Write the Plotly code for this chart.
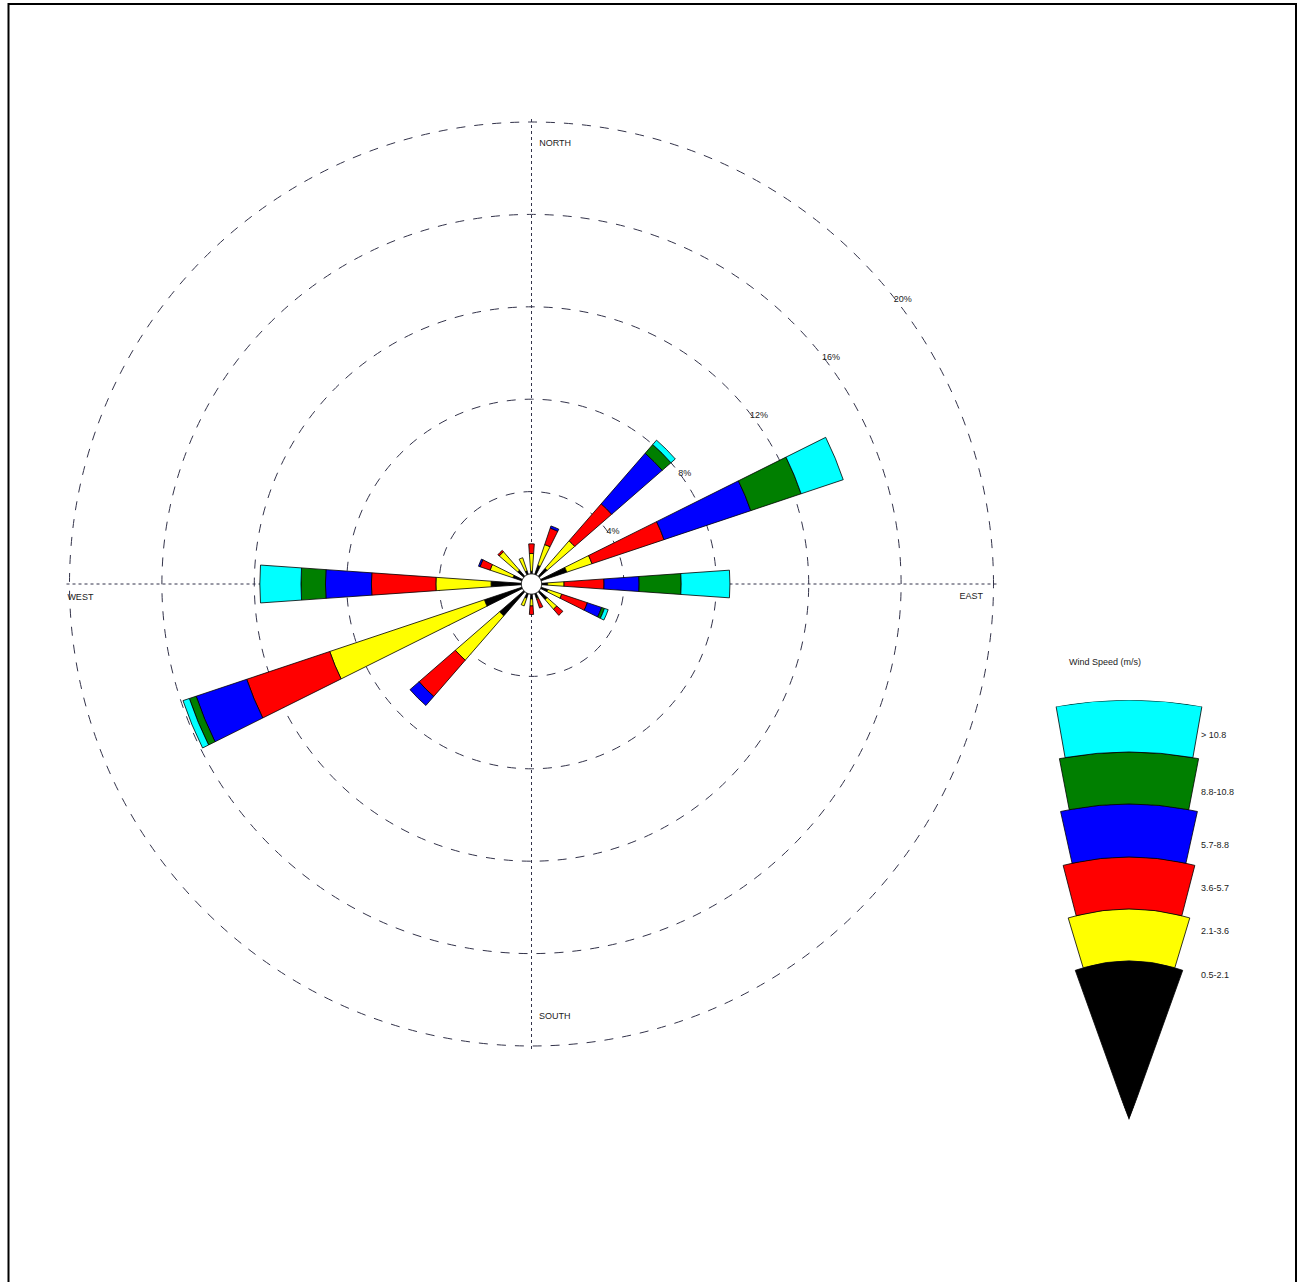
import numpy as np
import plotly.graph_objects as go

# ---------------- data ----------------
directions = [0, 22.5, 45, 67.5, 90, 112.5, 135, 157.5,
              180, 202.5, 225, 247.5, 270, 292.5, 315, 337.5]
direction_names = ["N", "NNE", "NE", "ENE", "E", "ESE", "SE", "SSE",
                   "S", "SSW", "SW", "WSW", "W", "WNW", "NW", "NNW"]
speed_classes = ["0.5-2.1", "2.1-3.6", "3.6-5.7", "5.7-8.8", "8.8-10.8", "> 10.8"]

# frequency (%) of each speed class per direction
freq_05_21 = [0.11, 0.41, 0.46, 1.17, 0.26, 0.31, 0.46, 0.21, 0.21, 0.21, 1.39, 1.71, 1.31, 0.41, 0.36, 0.16]
freq_21_36 = [0.77, 0.95, 1.58, 1.15, 0.71, 0.63, 0.55, 0.05, 0.30, 0.35, 2.54, 7.06, 2.39, 1.04, 1.05, 0.60]
freq_36_57 = [0.42, 0.75, 2.12, 3.29, 1.73, 1.17, 0.35, 0.40, 0.37, 0.00, 2.08, 3.79, 2.79, 0.46, 0.08, 0.00]
freq_57_88 = [0.00, 0.10, 2.90, 3.96, 1.52, 0.65, 0.00, 0.00, 0.00, 0.00, 0.52, 2.31, 1.99, 0.07, 0.00, 0.00]
freq_88_108 = [0.00, 0.00, 0.50, 2.30, 1.82, 0.13, 0.00, 0.00, 0.00, 0.00, 0.00, 0.31, 1.06, 0.00, 0.00, 0.00]
freq_gt_108 = [0.00, 0.00, 0.25, 1.92, 2.11, 0.17, 0.00, 0.00, 0.00, 0.00, 0.00, 0.29, 1.78, 0.00, 0.00, 0.00]
calm_radius = 0.44  # radius of the calm circle (%)

ring_values = [4, 8, 12, 16, 20]
ring_labels = ["4%", "8%", "12%", "16%", "20%"]
compass_labels = ["NORTH", "EAST", "SOUTH", "WEST"]
legend_title = "Wind Speed (m/s)"

# ---------------- styles / layout constants ----------------
W, H = 1298, 1282
colors = ["#000000", "#FFFF00", "#FF0000", "#0000FF", "#007F00", "#00FFFF"]
BAR_WIDTH = 8
GRID = "#33334a"
FONT = "Liberation Sans, Arial, sans-serif"

RMAX = 20.2
CX, CY = 531.5, 584
R = 462 * RMAX / 20  # so that the 20 % ring sits 462 px from the centre

def px_dom(cx, cy, r):
    return dict(x=[(cx - r) / W, (cx + r) / W],
                y=[(H - (cy + r)) / H, (H - (cy - r)) / H])

fig = go.Figure()

series = [freq_05_21, freq_21_36, freq_36_57, freq_57_88, freq_88_108, freq_gt_108]
cum = np.full(len(directions), calm_radius)
for name, vals, col in zip(speed_classes, series, colors):
    v = np.array(vals, dtype=float)
    keep = v > 0
    fig.add_trace(go.Barpolar(
        r=v[keep], theta=np.array(directions)[keep], base=cum[keep], width=BAR_WIDTH,
        name=name, marker=dict(color=col, line=dict(color="black", width=0.8)),
        subplot="polar", showlegend=False, hoverinfo="skip"))
    cum = cum + v

# calm circle
th = np.linspace(0, 360, 121)
fig.add_trace(go.Scatterpolar(
    r=[calm_radius] * len(th), theta=th, mode="lines", fill="toself",
    fillcolor="white", line=dict(color="black", width=1),
    subplot="polar", showlegend=False, hoverinfo="skip"))

# compass labels (placed just inside the outer ring)
fig.add_trace(go.Scatterpolar(
    r=[19.05, 19.55, 18.75, 20.1], theta=[1.0, 91.65, 179.0, 268.35],
    mode="text", text=compass_labels,
    textposition=["middle right", "middle left", "middle right", "middle right"],
    textfont=dict(family=FONT, size=9, color="#222"),
    subplot="polar", showlegend=False, hoverinfo="skip"))

# ---------------- legend fan ----------------
LEG_APEX_X, LEG_APEX_Y, LEG_R = 1129, 1120, 420
leg_edges = [0, 159, 211, 263, 316, 368, 420]
leg_widths = [39.5, 33.5, 29, 25, 21.8, 20]
for i, col in enumerate(colors):
    fig.add_trace(go.Barpolar(
        r=[leg_edges[i + 1] - leg_edges[i]], theta=[90], base=[leg_edges[i]],
        width=[leg_widths[i]], marker=dict(color=col, line=dict(color="black", width=0.8)),
        subplot="polar2", showlegend=False, hoverinfo="skip"))

half = np.cos(np.radians(68)) * LEG_R
leg_dom = dict(x=[(LEG_APEX_X - half) / W, (LEG_APEX_X + half) / W],
               y=[(H - LEG_APEX_Y) / H, (H - (LEG_APEX_Y - LEG_R)) / H])

annotations = [dict(x=1067 / W, y=(H - 662) / H, xref="paper", yref="paper",
                    text=legend_title, showarrow=False, xanchor="left",
                    font=dict(family=FONT, size=9, color="#222"))]
label_y = [982, 938, 895, 845, 792, 735]
for lab, yy in zip(speed_classes, label_y):
    annotations.append(dict(x=1199 / W, y=(H - yy) / H, xref="paper", yref="paper",
                            text=lab, showarrow=False, xanchor="left",
                            font=dict(family=FONT, size=9, color="#222")))

fig.update_layout(
    width=W, height=H, margin=dict(l=0, r=0, t=0, b=0),
    paper_bgcolor="white", plot_bgcolor="white",
    polar=dict(
        domain=px_dom(CX, CY, R),
        bgcolor="rgba(0,0,0,0)",
        barmode="overlay",
        radialaxis=dict(range=[0, RMAX], tickvals=ring_values, ticktext=ring_labels,
                        angle=39, tickangle=39, showline=False, ticks="",
                        gridcolor=GRID, griddash="dash", gridwidth=1,
                        tickfont=dict(family=FONT, size=9, color="#222")),
        angularaxis=dict(rotation=90, direction="clockwise", tickvals=[0, 90, 180, 270],
                         showticklabels=False, ticks="", showline=False,
                         gridcolor=GRID, griddash="dot", gridwidth=1.3),
    ),
    polar2=dict(
        domain=leg_dom, sector=[68, 112], bgcolor="rgba(0,0,0,0)", barmode="overlay",
        radialaxis=dict(range=[0, LEG_R], visible=False),
        angularaxis=dict(visible=False),
    ),
    annotations=annotations,
    shapes=[dict(type="rect", xref="paper", yref="paper",
                 x0=8.5 / W, x1=1296 / W, y0=(H - 1290) / H, y1=(H - 4) / H,
                 line=dict(color="black", width=2))],
)

fig.write_html("out.html", config={"displayModeBar": False},
               post_script="document.body.style.margin='0px';document.body.style.overflow='hidden';")
